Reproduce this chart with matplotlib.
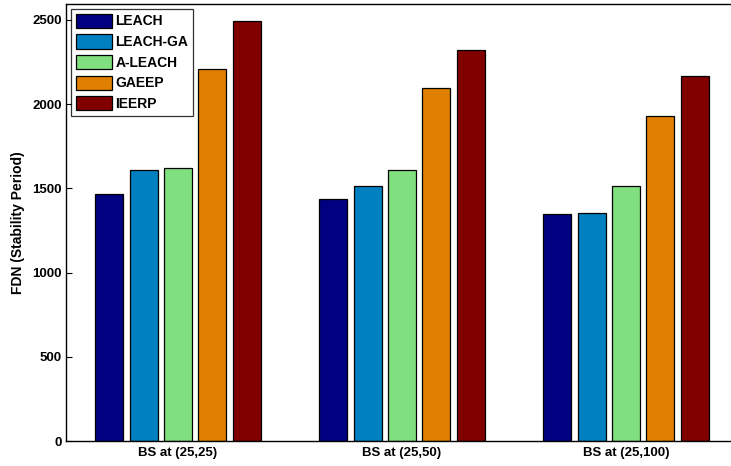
import numpy as np
import matplotlib.pyplot as plt

plt.rcParams["font.family"] = "Liberation Sans"
plt.rcParams["font.weight"] = "bold"
plt.rcParams["font.size"] = 9

groups = ["BS at (25,25)", "BS at (25,50)", "BS at (25,100)"]
protocols = ["LEACH", "LEACH-GA", "A-LEACH", "GAEEP", "IEERP"]
colors = ["#000080", "#0080C0", "#80E080", "#E08000", "#800000"]

leach    = [1467, 1435, 1346]
leach_ga = [1607, 1514, 1352]
a_leach  = [1619, 1607, 1512]
gaeep    = [2207, 2094, 1928]
ieerp    = [2492, 2320, 2166]
series = [leach, leach_ga, a_leach, gaeep, ieerp]

yticks = [0, 500, 1000, 1500, 2000, 2500]

fig = plt.figure(figsize=(7.31, 4.66), dpi=100)
# axes run a bit past the right edge of the figure
ax = fig.add_axes([66/731, 25/466, 672/731, 437/466])

x = np.arange(1, len(groups) + 1)
slot = 0.154
width = 0.125
for i, (vals, c, name) in enumerate(zip(series, colors, protocols)):
    ax.bar(x + (i - 2) * slot, vals, width, color=c, edgecolor="black",
           linewidth=0.9, label=name, zorder=2)

ax.set_xlim(0.5, 3.5)
ax.set_ylim(0, 2595)
ax.set_xticks(x)
ax.set_xticklabels(groups, fontsize=9.5, fontweight="bold")
ax.set_yticks(yticks)
ax.set_yticklabels([str(v) for v in yticks], fontsize=9.5, fontweight="bold")
ax.tick_params(axis="both", direction="in", length=4, width=0.8,
               right=True, top=False, pad=3)
ax.tick_params(axis="x", length=0, pad=4)
ax.set_ylabel("FDN (Stability Period)", fontsize=10, fontweight="bold", labelpad=5)
for s in ax.spines.values():
    s.set_linewidth(1.0)

leg = ax.legend(loc="upper left", bbox_to_anchor=(0.0075, 0.989), fontsize=10,
                frameon=True, fancybox=False, edgecolor="black",
                handlelength=2.6, handleheight=1.2, labelspacing=0.42,
                handletextpad=0.25, borderpad=0.35, borderaxespad=0.0)
leg.get_frame().set_linewidth(0.9)
for t in leg.get_texts():
    t.set_fontweight("bold")

fig.savefig("out.png", dpi=100)
